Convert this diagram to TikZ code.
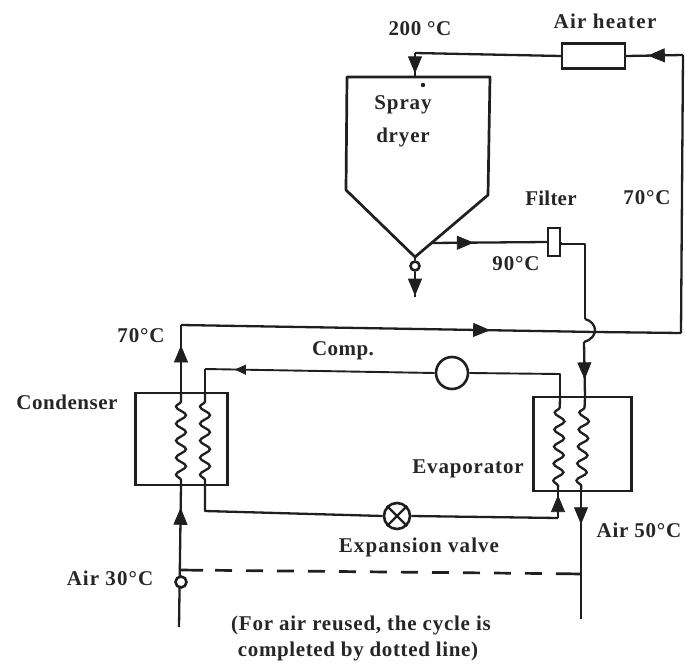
\documentclass[tikz,border=0pt]{standalone}
\usepackage{fontspec}
\setmainfont{Liberation Serif}
\usetikzlibrary{arrows.meta,decorations.markings,decorations.pathmorphing}
\tikzset{
  x=1pt,y=-1pt,
  pipe/.style={draw=black!88,line width=2.3pt,line join=round},
  thinpipe/.style={draw=black!88,line width=1.9pt,line join=round},
  flow/.style={postaction={decorate,decoration={markings,
     mark=at position #1 with {\arrow[line width=0.8pt]{Triangle[length=17pt,width=14pt]}}}}},
  smallflow/.style={postaction={decorate,decoration={markings,
     mark=at position #1 with {\arrow[line width=0.8pt]{Triangle[length=11pt,width=10pt]}}}}},
  coil/.style={draw=black!88,line width=2.3pt,decorate,
     decoration={snake,segment length=17pt,amplitude=5pt,pre length=5pt,post length=5pt}},
  unit/.style={draw=black!88,line width=2.4pt,fill=white,inner sep=0pt,minimum width=#1},
  ring/.style={circle,draw=black!88,line width=2.6pt,fill=white,inner sep=0pt,minimum size=#1},
  label/.style={font=\fontsize{21}{24}\selectfont\bfseries,text=black!85,inner sep=0pt,align=center},
  bypass/.style={draw=black!88,line width=2.7pt},
}
\begin{document}
\begin{tikzpicture}
\useasboundingbox (0,0) rectangle (685,666);
% junction and bend coordinates
\coordinate (dl) at (347,77);
\coordinate (dr) at (490,77);
\coordinate (drb) at (488,195);
\coordinate (apex) at (415,257);
\coordinate (dlb) at (346,190);
\coordinate (hotcorner) at (415,53);
\coordinate (dtop) at (415,77);
\coordinate (ne) at (683,55);
\coordinate (se) at (681,333);
\coordinate (hopR) at (596,332);
\coordinate (nw) at (181,325);
\coordinate (cairtop) at (181,393);
\coordinate (cairbot) at (181,485);
\coordinate (airstart) at (179,627);
\coordinate (dashL) at (181,570);
\coordinate (dashA) at (203,570.3);
\coordinate (dashB) at (562,573.7);
\coordinate (dashR) at (581,574);
\coordinate (tap) at (431,243);
\coordinate (fbend) at (585,244);
\coordinate (hopT) at (585,319);
\coordinate (hopB) at (584,342);
\coordinate (eairtop) at (585,397);
\coordinate (eairbot) at (581,491);
\coordinate (airend) at (581,619);
\coordinate (drop) at (415,297);
\coordinate (ctop) at (205,393);
\coordinate (cbot) at (205,485);
\coordinate (cnw) at (205,369);
\coordinate (rne) at (560,374);
\coordinate (etop) at (560,397);
\coordinate (ebot) at (558,491);
\coordinate (rse) at (558,518);
\coordinate (csw) at (205,511);
\coordinate (dot) at (423,85);
% units
\node[unit=92pt,minimum height=92pt] (condenser) at (181.5,439) {};
\node[unit=98pt,minimum height=94pt] (evaporator) at (582.5,444) {};
\node[unit=63pt,minimum height=25pt] (heater) at (593.5,56) {};
\node[unit=12pt,minimum height=28pt] (filter) at (554,242) {};
% spray dryer
\draw[pipe,line width=2.7pt] (dlb) -- (dl) -- (dr) -- (drb) -- (apex) -- cycle;
\fill[black!88] (dot) circle (2.2pt);
% air loop
\draw[pipe] (heater.west) -- (hotcorner);
\draw[pipe,flow=0.85] (hotcorner) -- (dtop);
\draw[pipe,flow=0.62] (ne) -- (heater.east);
\draw[pipe] (se) -- (ne);
\draw[pipe] (se) -- (hopR);
\draw[pipe,flow=0.745] (nw) -- (hopR);
\draw[pipe,flow=0.7] (cairtop) -- (nw);
\draw[pipe,flow=0.84] (airstart) -- (cairbot);
\draw[pipe,flow=0.37] (tap) -- (filter.west);
\draw[thinpipe] (filter.east) |- (fbend) -- (hopT);
\draw[pipe] (hopT) .. controls (597,322) and (600,337) .. (hopB);
\draw[pipe,flow=0.68] (hopB) -- (eairtop);
\draw[pipe,flow=0.26] (eairbot) -- (airend);
\draw[bypass] (dashL) -- (dashA);
\draw[bypass,dash pattern=on 17pt off 14pt] ([xshift=12pt]dashA) -- (dashB);
\draw[bypass] (dashB) -- (dashR);
% refrigerant loop
\node[ring=32pt] (comp) at (452,373) {};
\node[ring=26pt] (valve) at (397,516) {};
\draw[black!88,line width=2.2pt] (valve.45) -- (valve.225) (valve.135) -- (valve.315);
\draw[thinpipe] (comp.east) -- (rne) -- (etop);
\draw[thinpipe,smallflow=0.87] (comp.west) -- (cnw);
\draw[thinpipe] (cnw) -- (ctop);
\draw[pipe] (cbot) -- (csw) -- (valve.west);
\draw[pipe] (valve.east) -- (rse);
\draw[pipe,flow=0.85] (rse) -- (ebot);
% coils
\draw[coil] (cairbot) -- (cairtop);
\draw[coil] (cbot) -- (ctop);
\draw[coil] (ebot) -- (etop);
\draw[coil] (eairbot) -- (eairtop);
% discharge
\node[ring=9pt] (outlet) at (415,266) {};
\draw[pipe] (apex) -- (outlet);
\draw[pipe,flow=0.95] (outlet) -- (drop);
\node[ring=11pt] (inlet) at (181,582) {};
% labels
\node[label] (t200) at (420,29) {\addfontfeature{LetterSpace=3}200 °C};
\node[label] (theater) at (605,21) {\addfontfeature{LetterSpace=6}Air heater};
\node[label] (tspray) at (403,105) {\addfontfeature{LetterSpace=4}Spray};
\node[label] (tdryer) at (403,137) {\addfontfeature{LetterSpace=4}dryer};
\node[label] (tfilter) at (551,198) {\addfontfeature{LetterSpace=1}Filter};
\node[label] (t70r) at (647,198) {\addfontfeature{LetterSpace=4}70°C};
\node[label] (t90) at (516,264) {\addfontfeature{LetterSpace=4}90°C};
\node[label] (t70l) at (141,336) {\addfontfeature{LetterSpace=4}70°C};
\node[label] (tcomp) at (343,351) {\addfontfeature{LetterSpace=2}Comp.};
\node[label] (tcond) at (67,402) {\addfontfeature{LetterSpace=2.5}Condenser};
\node[label] (tevap) at (468,469) {\addfontfeature{LetterSpace=4}Evaporator};
\node[label] (t50) at (639,530) {\addfontfeature{LetterSpace=3.5}Air 50°C};
\node[label] (texp) at (419,547) {\addfontfeature{LetterSpace=5}Expansion valve};
\node[label] (t30) at (110,578) {\addfontfeature{LetterSpace=5}Air 30°C};
\node[label] (tnote1) at (361,625) {\addfontfeature{LetterSpace=3.6}(For air reused, the cycle is};
\node[label] (tnote2) at (358,651) {\addfontfeature{LetterSpace=3}completed by dotted line)};
\end{tikzpicture}
\end{document}
